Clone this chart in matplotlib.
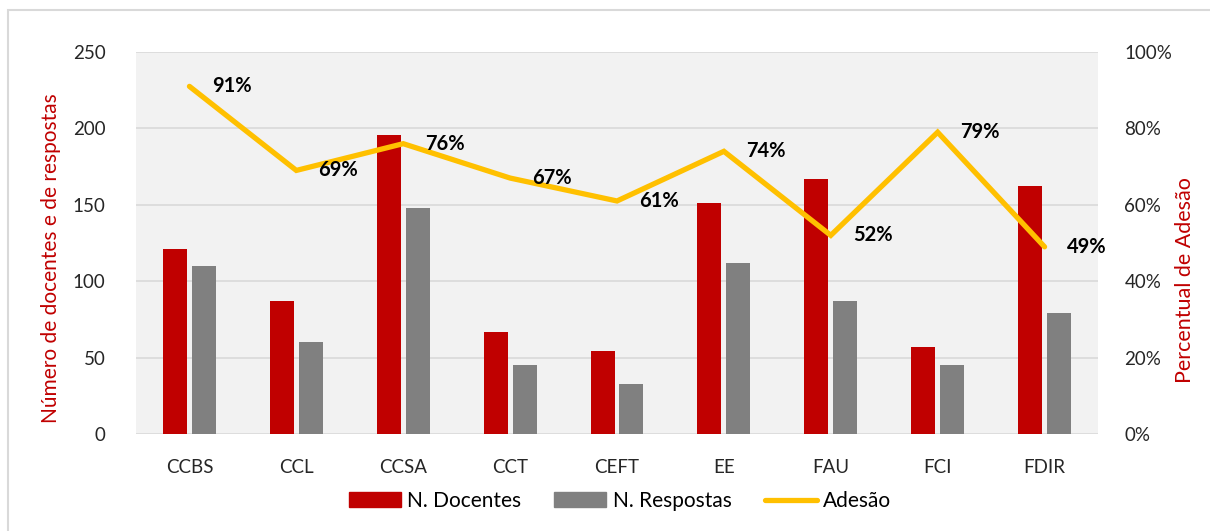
import matplotlib
matplotlib.use("Agg")
import matplotlib.pyplot as plt
import numpy as np
from matplotlib.patches import Rectangle
from matplotlib.lines import Line2D

categories = ["CCBS", "CCL", "CCSA", "CCT", "CEFT", "EE", "FAU", "FCI", "FDIR"]
docentes = [121, 87, 196, 67, 54, 151, 167, 57, 162]
respostas = [110, 60, 148, 45, 33, 112, 87, 45, 79]
adesao = [91, 69, 76, 67, 61, 74, 52, 79, 49]

RED = "#C00000"
GRAY = "#808080"
GOLD = "#FFC000"
plt.rcParams['font.family'] = ['Lato', 'DejaVu Sans']

fig = plt.figure(figsize=(12.1, 5.31), dpi=100)
ax = fig.add_axes([136/1210, 1-434/531, (1098-136)/1210, (434-52)/531])
ax.set_facecolor("#F2F2F2")

x = np.arange(len(categories))
w = 0.225
ax.bar(x - 0.135, docentes, w, color=RED, zorder=2, label="N. Docentes")
ax.bar(x + 0.135, respostas, w, color=GRAY, zorder=2, label="N. Respostas")
ax.set_xlim(-0.5, len(categories) - 0.5)
ax.set_ylim(0, 250)
ax.set_yticks(range(0, 251, 50))
ax.yaxis.grid(True, color="#D9D9D9", linewidth=1.2, zorder=0)
ax.set_axisbelow(True)
for s in ax.spines.values():
    s.set_visible(False)
ax.tick_params(length=0, labelsize=13.5, colors="#262626")
ax.tick_params(axis='y', pad=22)
ax.tick_params(axis='x', pad=18)
ax.set_xticks(x)
ax.set_xticklabels(categories)
ax.set_ylabel("Número de docentes e de respostas", color=RED, fontsize=15)
ax.yaxis.set_label_coords((61-136)/962, (434-258)/382)

ax2 = ax.twinx()
ax2.set_ylim(0, 100)
ax2.set_yticks(range(0, 101, 20))
ax2.set_yticklabels([f"{v}%" for v in range(0, 101, 20)])
for s in ax2.spines.values():
    s.set_visible(False)
ax2.tick_params(length=0, labelsize=13.5, colors="#262626", pad=19)
ax2.plot(x, adesao, color=GOLD, linewidth=3.8, solid_capstyle='round', solid_joinstyle='miter', zorder=3)
for xi, v in zip(x, adesao):
    ax2.annotate(f"{v}%", (xi, v), xytext=(16, 0), textcoords="offset points",
                 ha="left", va="center", fontsize=14.5, fontweight="bold", color="black")
ax2.set_ylabel("Percentual de Adesão", color=RED, fontsize=15.5)
ax2.yaxis.set_label_coords((1175-136)/962, (434-280)/382)

handles = [Rectangle((0, 0), 1, 1, color=RED), Rectangle((0, 0), 1, 1, color=GRAY),
           Line2D([0], [0], color=GOLD, linewidth=3.8, solid_capstyle='round')]
fig.legend(handles, ["N. Docentes", "N. Respostas", "Adesão"], loc="center",
           bbox_to_anchor=(620/1210, 1-501/531), ncol=3, frameon=False, fontsize=15,
           handlelength=2.5, handleheight=0.72, columnspacing=1.6, handletextpad=0.3)

fig.patches.append(Rectangle((8/1210, -0.1), 1.2, 1 - 10/531 + 0.1, transform=fig.transFigure,
                             fill=False, edgecolor="#D9D9D9", linewidth=1.5))
fig.savefig("out.png", dpi=100, facecolor="white")
